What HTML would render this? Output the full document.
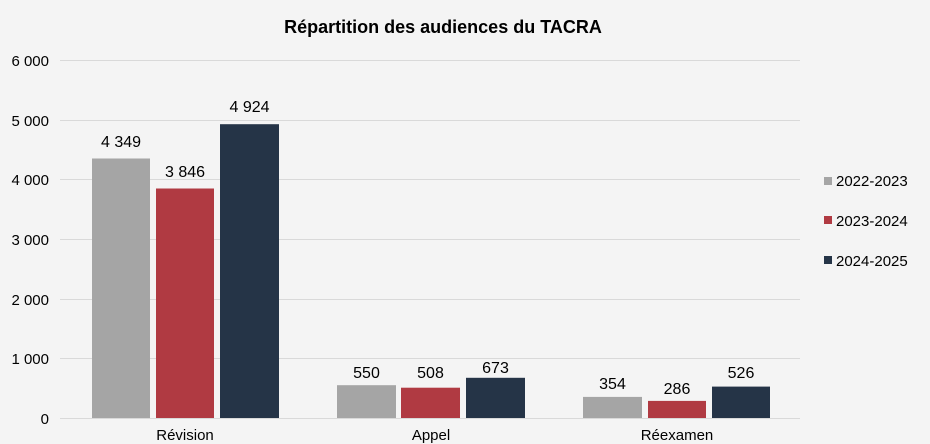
<!DOCTYPE html>
<html><head><meta charset="utf-8"><style>html,body{margin:0;padding:0;background:#f4f4f4;overflow:hidden;width:930px;height:444px}svg{display:block}</style></head>
<body>
<svg width="930" height="444" xmlns="http://www.w3.org/2000/svg" font-family="Liberation Sans, sans-serif">
<rect width="930" height="444" fill="#f4f4f4"/>
<text x="443" y="33" text-anchor="middle" font-size="18" font-weight="bold" fill="#000">Répartition des audiences du TACRA</text>
<g stroke="#d9d9d9" stroke-width="1">
<line x1="60" x2="800" y1="60.5" y2="60.5"/>
<line x1="60" x2="800" y1="120.5" y2="120.5"/>
<line x1="60" x2="800" y1="179.5" y2="179.5"/>
<line x1="60" x2="800" y1="239.5" y2="239.5"/>
<line x1="60" x2="800" y1="299.5" y2="299.5"/>
<line x1="60" x2="800" y1="358.5" y2="358.5"/>
<line x1="60" x2="800" y1="418.5" y2="418.5"/>
</g>
<g font-size="15" fill="#000" text-anchor="end">
<text x="49" y="66">6 000</text>
<text x="49" y="126">5 000</text>
<text x="49" y="185">4 000</text>
<text x="49" y="245">3 000</text>
<text x="49" y="305">2 000</text>
<text x="49" y="364">1 000</text>
<text x="49" y="424">0</text>
</g>
<g>
<rect x="92" y="158.5" width="58" height="259.5" fill="#a5a5a5"/>
<rect x="156" y="188.5" width="58" height="229.5" fill="#b03a42"/>
<rect x="220" y="124.2" width="59" height="293.8" fill="#253447"/>
<rect x="337" y="385.2" width="59" height="32.8" fill="#a5a5a5"/>
<rect x="401" y="387.7" width="59" height="30.3" fill="#b03a42"/>
<rect x="466" y="377.8" width="59" height="40.2" fill="#253447"/>
<rect x="583" y="396.9" width="59" height="21.1" fill="#a5a5a5"/>
<rect x="648" y="400.9" width="58" height="17.1" fill="#b03a42"/>
<rect x="712" y="386.6" width="58" height="31.4" fill="#253447"/>
</g>
<g font-size="16" fill="#000" text-anchor="middle">
<text x="121" y="147">4 349</text>
<text x="185" y="177">3 846</text>
<text x="249.5" y="112">4 924</text>
<text x="366.5" y="378">550</text>
<text x="430.5" y="378">508</text>
<text x="495.5" y="373">673</text>
<text x="612.5" y="389">354</text>
<text x="677" y="394">286</text>
<text x="741" y="378">526</text>
</g>
<g font-size="15" fill="#000" text-anchor="middle">
<text x="185" y="440">Révision</text>
<text x="431" y="440">Appel</text>
<text x="677" y="440">Réexamen</text>
</g>
<rect x="824" y="177" width="8" height="8" fill="#a5a5a5"/>
<rect x="824" y="216" width="8" height="8" fill="#b03a42"/>
<rect x="824" y="256" width="8" height="8" fill="#253447"/>
<g font-size="15" fill="#000">
<text x="836" y="186">2022-2023</text>
<text x="836" y="226">2023-2024</text>
<text x="836" y="266">2024-2025</text>
</g>
</svg>
</body></html>
